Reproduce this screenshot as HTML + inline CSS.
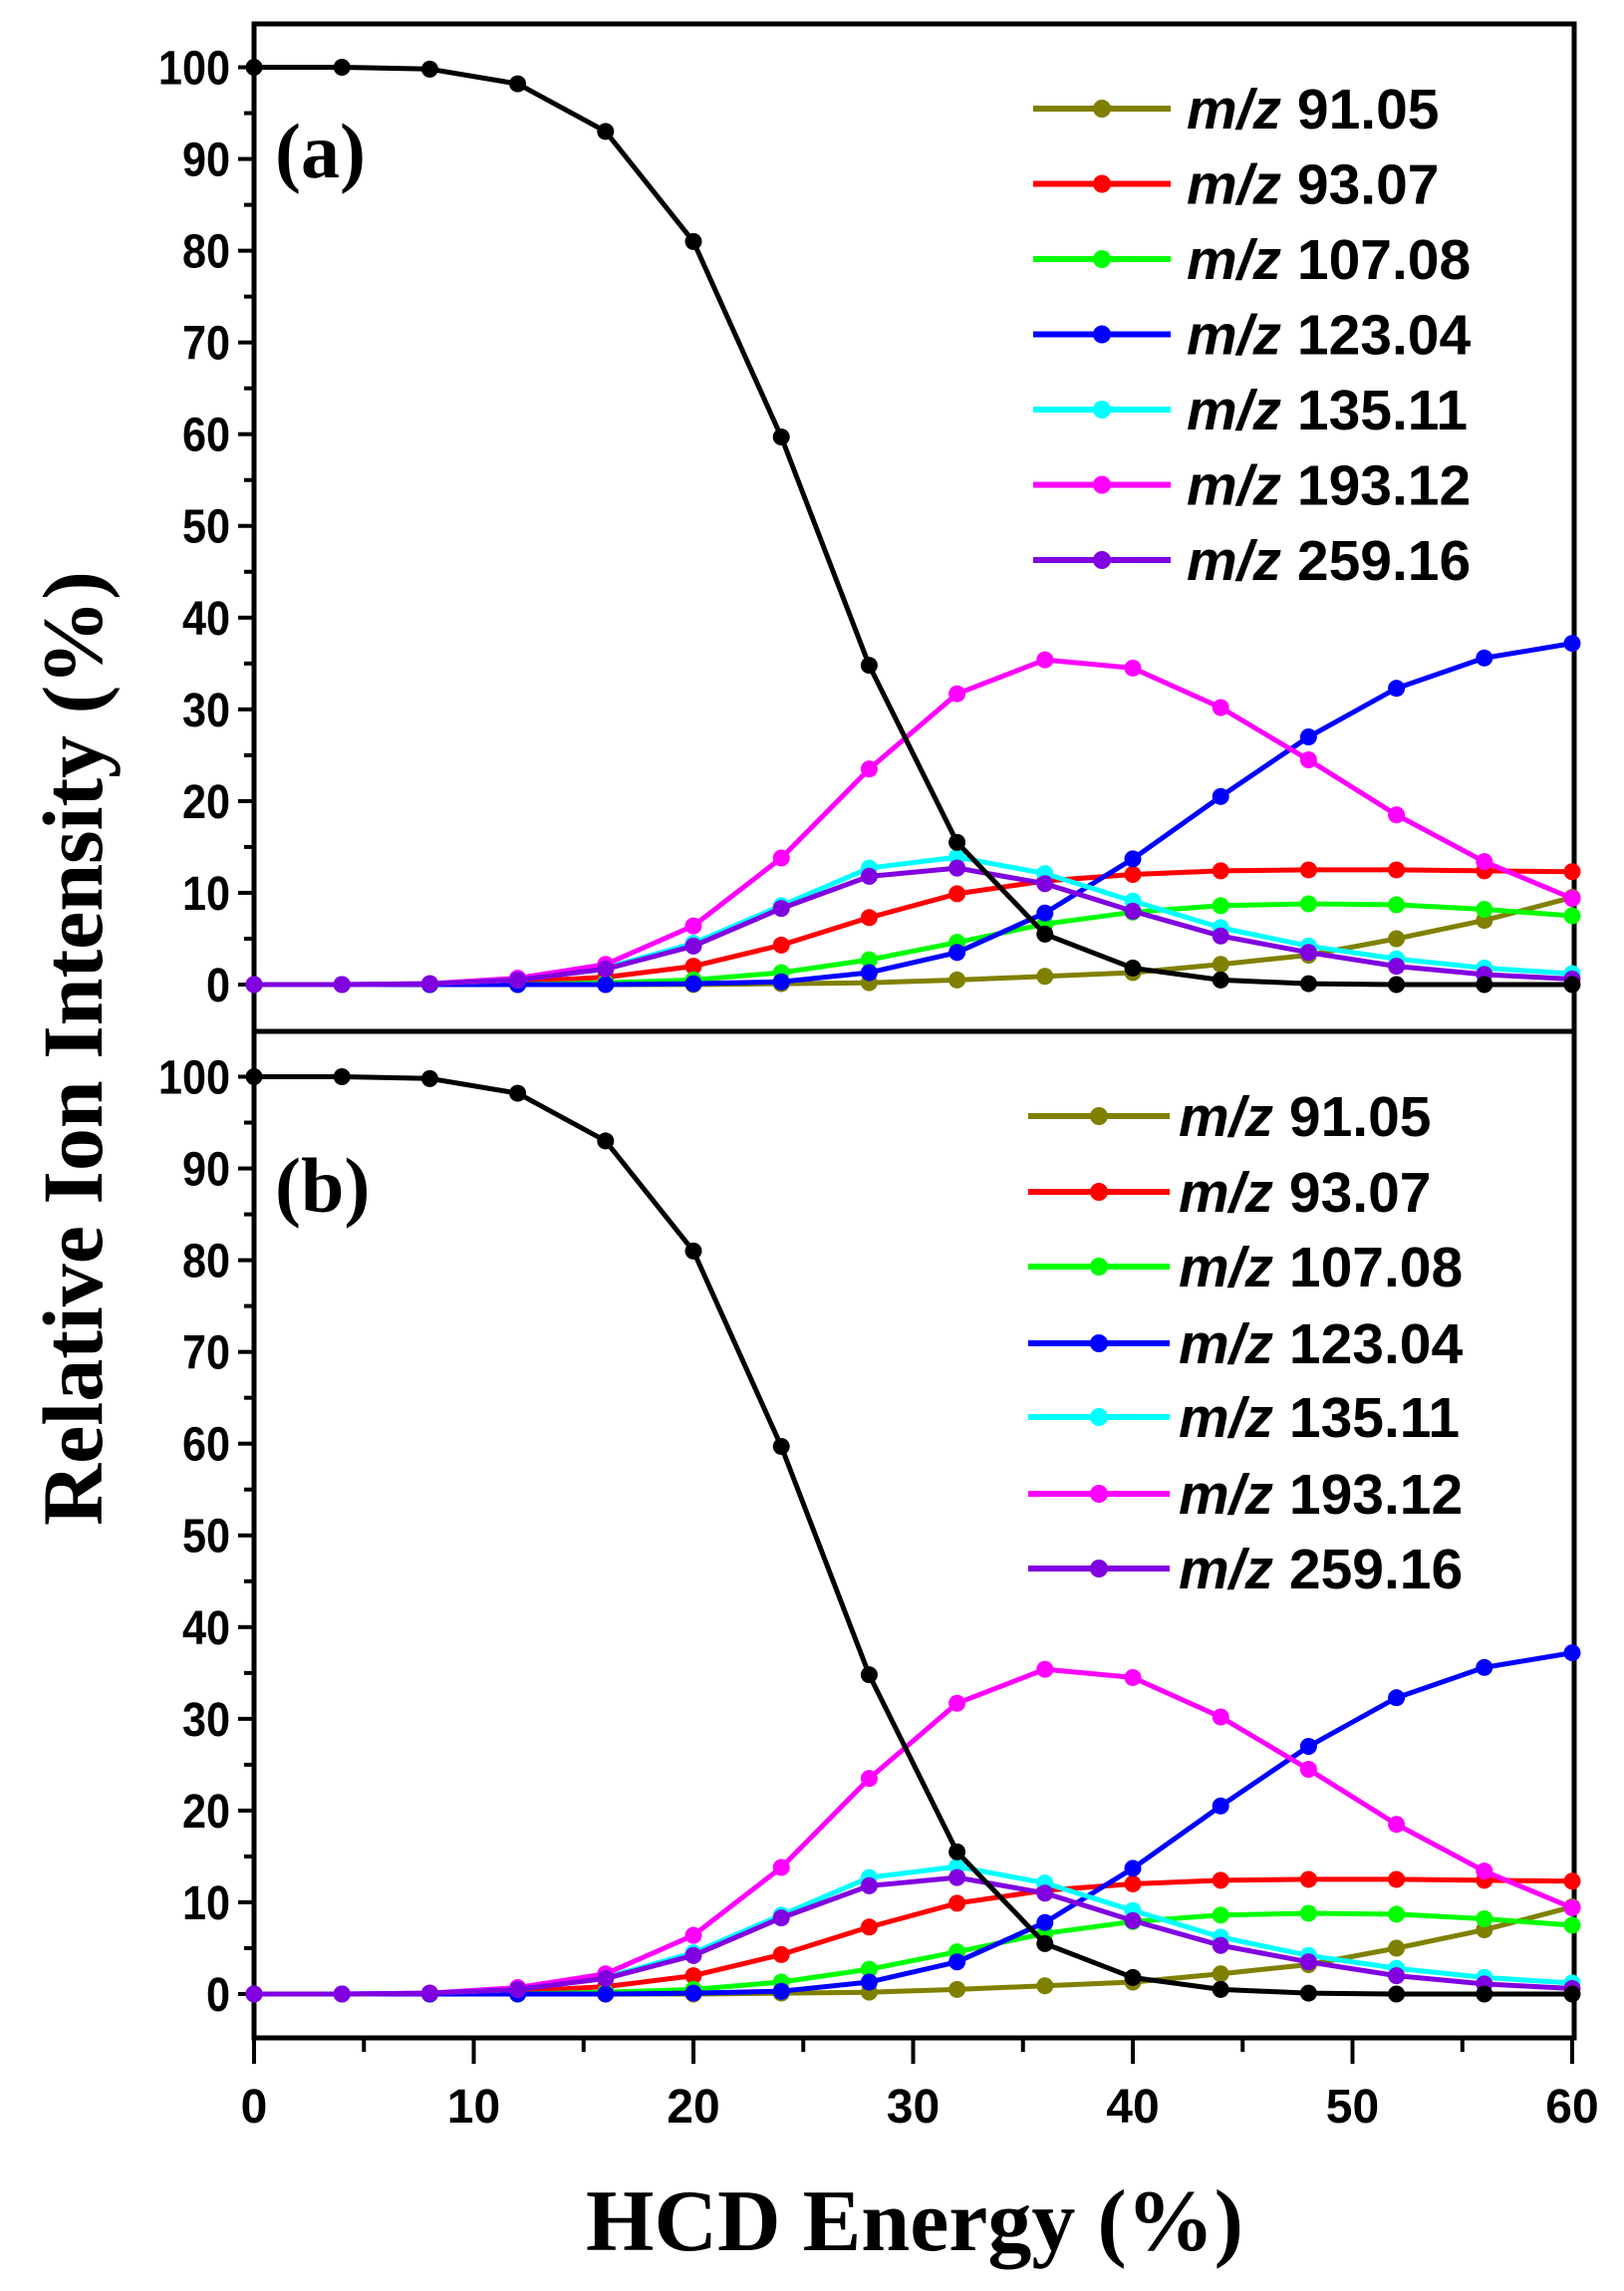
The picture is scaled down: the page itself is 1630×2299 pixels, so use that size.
<!DOCTYPE html>
<html><head><meta charset="utf-8"><style>
html,body{margin:0;padding:0;background:#fff;}
svg{display:block;}
</style></head><body>
<svg id="s" width="1630" height="2299" viewBox="0 0 1630 2299" xmlns="http://www.w3.org/2000/svg"></svg>
<script>
const S=document.getElementById('s');
let h='';
const X0=255,XS=(1578-255)/60;
const panels=[{y100:67.5,y0:988,leg:{x1:1037,x2:1175,tx:1191,rows:[109,184.5,260,335.5,411,486.5,562]},lab:'(a)',ly:178},
              {y100:1080.5,y0:2001,leg:{x1:1032,x2:1174,tx:1183,rows:[1120,1196,1271,1348,1422,1499,1574]},lab:'(b)',ly:1216}];
const xs=[0,4,8,12,16,20,24,28,32,36,40,44,48,52,56,60];
const data=[
 ['#808000',[0,0,0,0,0,0,0.1,0.2,0.5,0.9,1.3,2.2,3.2,5,7,9.5]],
 ['#ff0000',[0,0,0,0.3,0.8,2,4.3,7.3,9.9,11.3,12,12.4,12.5,12.5,12.4,12.3]],
 ['#00ff00',[0,0,0,0,0.2,0.5,1.3,2.7,4.6,6.6,7.9,8.6,8.8,8.7,8.2,7.5]],
 ['#0000ff',[0,0,0,0,0,0.1,0.3,1.3,3.5,7.8,13.7,20.5,27,32.3,35.6,37.2]],
 ['#00ffff',[0,0,0.1,0.5,1.8,4.5,8.6,12.7,13.9,12.1,9.1,6.2,4.2,2.8,1.8,1.2]],
 ['#ff00ff',[0,0,0.1,0.7,2.2,6.4,13.8,23.5,31.7,35.4,34.5,30.2,24.5,18.5,13.4,9.4]],
 ['#8000e0',[0,0,0.1,0.5,1.7,4.2,8.3,11.8,12.7,11.0,8.0,5.3,3.5,2.0,1.1,0.6]],
 ['#000000',[100,100,99.8,98.2,93,81,59.7,34.8,15.5,5.5,1.8,0.5,0.1,0,0,0]]
];
const names=['91.05','93.07','107.08','123.04','135.11','193.12','259.16'];
h+=`<rect x="${X0}" y="24" width="${1580-X0}" height="${2045-24}" fill="none" stroke="#000" stroke-width="5"/>`;
h+=`<line x1="${X0}" y1="1035" x2="1580" y2="1035" stroke="#000" stroke-width="5"/>`;
panels.forEach(p=>{
  const ys=(p.y0-p.y100)/100;
  for(let v=0;v<=100;v+=5){
    const y=p.y0-v*ys; const maj=v%10==0;
    h+=`<line x1="${X0-(maj?16:10)}" y1="${y}" x2="${X0}" y2="${y}" stroke="#000" stroke-width="4"/>`;
    if(maj) h+=`<text x="${X0-24}" y="${y+17}" text-anchor="end" font-family="Liberation Sans,sans-serif" font-weight="bold" font-size="48" transform="translate(${X0-24} 0) scale(0.9 1) translate(${-(X0-24)} 0)">${v}</text>`;
  }
  const yy=v=>p.y0-v*ys;
  data.forEach(([c,d])=>{
    h+=`<polyline fill="none" stroke="${c}" stroke-width="5" stroke-linejoin="round" points="${d.map((v,i)=>(X0+xs[i]*XS).toFixed(1)+','+yy(v).toFixed(1)).join(' ')}"/>`;
    d.forEach((v,i)=>h+=`<circle cx="${X0+xs[i]*XS}" cy="${yy(v)}" r="8.5" fill="${c}"/>`);
  });
  names.forEach((n,i)=>{
    const y=p.leg.rows[i];
    h+=`<line x1="${p.leg.x1}" y1="${y}" x2="${p.leg.x2}" y2="${y}" stroke="${data[i][0]}" stroke-width="6"/>`;
    h+=`<circle cx="${(p.leg.x1+p.leg.x2)/2}" cy="${y}" r="9" fill="${data[i][0]}"/>`;
    h+=`<text x="${p.leg.tx}" y="${y+20}" font-family="Liberation Sans,sans-serif" font-weight="bold" font-size="57"><tspan font-style="italic">m/z</tspan> ${n}</text>`;
  });
  h+=`<text x="276" y="${p.ly}" font-family="Liberation Serif,serif" font-weight="bold" font-size="78">${p.lab}</text>`;
});
for(let v=0;v<=60;v+=5){
  const x=X0+v*XS; const maj=v%10==0;
  h+=`<line x1="${x}" y1="2045" x2="${x}" y2="${2045+(maj?26:14)}" stroke="#000" stroke-width="4"/>`;
  if(maj) h+=`<text x="${x}" y="2130" text-anchor="middle" font-family="Liberation Sans,sans-serif" font-weight="bold" font-size="48">${v}</text>`;
}
h+=`<text x="918" y="2258" text-anchor="middle" font-family="Liberation Serif,serif" font-weight="bold" font-size="88">HCD Energy (%)</text>`;
h+=`<text transform="translate(102 1052) rotate(-90)" text-anchor="middle" font-family="Liberation Serif,serif" font-weight="bold" font-size="86">Relative Ion Intensity (%)</text>`;
S.innerHTML=h;
</script>
</body></html>
